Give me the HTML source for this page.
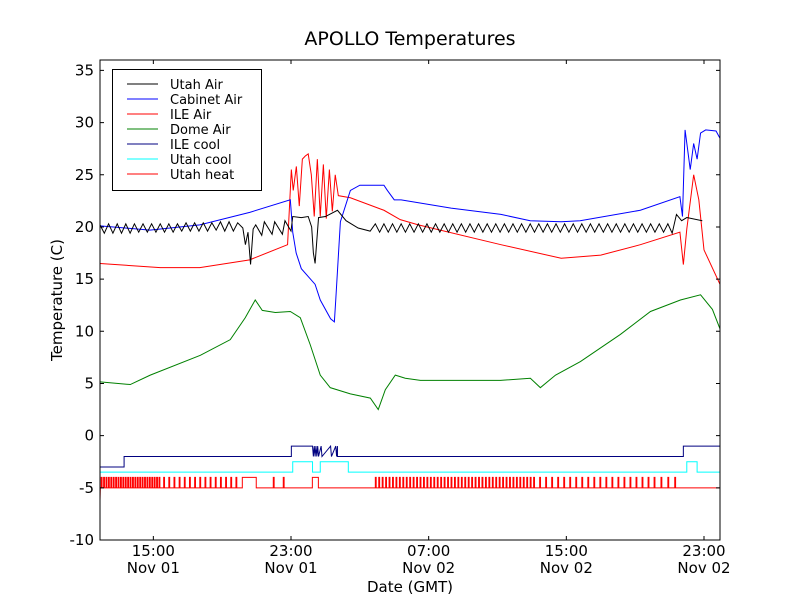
<!DOCTYPE html>
<html><head><meta charset="utf-8"><style>
body{margin:0;background:#fff;}
svg{display:block;font-family:"DejaVu Sans","Liberation Sans",sans-serif;}
</style></head><body>
<svg id="chart" width="800" height="600" viewBox="0 0 800 600" xmlns="http://www.w3.org/2000/svg">
<rect x="0" y="0" width="800" height="600" fill="#fff"/>
<defs><clipPath id="clip"><rect x="100" y="60" width="620" height="480"/></clipPath></defs>
<text x="410" y="45" font-size="19" text-anchor="middle">APOLLO Temperatures</text>
<text x="0" y="0" font-size="15" text-anchor="middle" transform="translate(62,300) rotate(-90)">Temperature (C)</text>
<text x="410" y="592" font-size="15" text-anchor="middle">Date (GMT)</text>
<g id="series" clip-path="url(#clip)"></g>
<g id="axes"></g>
<g id="legend"></g>
</svg>
<script>
// time in hours since Nov 01 00:00 GMT
const xTickTimes = [15, 23, 31, 39, 47];
const xTickTop = ["15:00", "23:00", "07:00", "15:00", "23:00"];
const xTickBottom = ["Nov 01", "Nov 01", "Nov 02", "Nov 02", "Nov 02"];
const yTicks = [-10, -5, 0, 5, 10, 15, 20, 25, 30, 35];
const seriesNames = ["Utah Air", "Cabinet Air", "ILE Air", "Dome Air", "ILE cool", "Utah cool", "Utah heat"];

const cabinetT = [11.9,14.8,17.7,20.6,22.96,23.1,23.3,23.6,24.4,24.7,25.3,25.52,25.6,25.87,26.45,27.0,28.4,28.6,29.0,29.4,32.3,35.2,36.9,38.7,39.8,43.3,45.6,45.75,45.9,46.2,46.4,46.6,46.8,47.1,47.7,47.96];
const cabinetV = [20.1,19.7,20.2,21.4,22.6,19.5,17.5,16.0,14.5,13,11.2,10.9,13.0,20.5,23.5,24.0,24.0,23.5,22.6,22.6,21.8,21.2,20.6,20.5,20.6,21.6,22.9,21.0,29.3,25.5,28,26.5,29,29.3,29.2,28.4];

const ileAirT = [11.9,15.4,17.7,20.6,22.8,23.02,23.13,23.31,23.48,23.66,23.83,24.0,24.18,24.35,24.53,24.7,24.88,25.05,25.23,25.4,25.57,25.75,26.45,28.4,29.35,30.4,35.2,38.7,41.0,43.3,45.6,45.8,46.0,46.4,46.7,47.0,47.96];
const ileAirV = [16.5,16.1,16.1,16.85,18.3,25.5,23.5,25.8,22,26.5,26.8,27,25,21,26.5,21,26,20.8,25.5,21.5,25,23,22.8,21.6,20.7,20.2,18.3,17,17.3,18.3,19.5,16.4,19.8,25,22.6,17.8,14.4];

const utahAirT = [11.9,12.15,12.4,12.65,12.9,13.15,13.4,13.65,13.9,14.15,14.4,14.65,14.9,15.15,15.4,15.65,15.9,16.15,16.4,16.65,16.9,17.15,17.4,17.65,17.9,18.15,18.4,18.65,18.9,19.15,19.4,19.65,19.9,20.2,20.35,20.5,20.65,20.8,20.95,21.3,21.45,21.9,22.05,22.5,22.65,23.0,23.1,23.6,24.0,24.2,24.3,24.4,24.6,25.0,25.7,26.2,26.9,27.6,27.9,28.15,28.4,28.65,28.9,29.15,29.4,29.65,29.9,30.15,30.4,30.65,30.9,31.15,31.4,31.65,31.9,32.15,32.4,32.65,32.9,33.15,33.4,33.65,33.9,34.15,34.4,34.65,34.9,35.15,35.4,35.65,35.9,36.15,36.4,36.65,36.9,37.15,37.4,37.65,37.9,38.15,38.4,38.65,38.9,39.15,39.4,39.65,39.9,40.15,40.4,40.65,40.9,41.15,41.4,41.65,41.9,42.15,42.4,42.65,42.9,43.15,43.4,43.65,43.9,44.15,44.4,44.65,44.9,45.15,45.4,45.7,46.0,46.9,47.96];
const utahAirV = [20.2,19.4,20.3,19.4,20.3,19.4,20.3,19.4,20.3,19.5,20.3,19.5,20.3,19.5,20.3,19.5,20.3,19.5,20.3,19.6,20.4,19.6,20.4,19.6,20.4,19.6,20.4,19.7,20.5,19.6,20.5,19.6,20.4,19.9,18.3,19.5,16.4,19.8,20.2,19.2,20.5,19.3,20.5,19.3,20.6,19.6,21.0,20.9,21.0,20.0,17.5,16.5,20.9,21.0,21.6,20.6,19.9,19.6,20.3,19.5,20.3,19.5,20.3,19.5,20.3,19.5,20.3,19.5,20.3,19.5,20.3,19.5,20.3,19.5,20.3,19.5,20.3,19.5,20.3,19.5,20.3,19.5,20.3,19.5,20.3,19.5,20.3,19.5,20.3,19.5,20.3,19.5,20.3,19.5,20.3,19.5,20.3,19.5,20.3,19.5,20.3,19.5,20.3,19.5,20.3,19.5,20.3,19.5,20.3,19.5,20.3,19.5,20.3,19.5,20.3,19.5,20.3,19.5,20.3,19.5,20.3,19.5,20.3,19.5,20.3,19.5,20.3,19.4,21.2,20.6,20.9,20.6];

const domeT = [11.91,13.66,14.82,17.73,19.47,20.34,20.92,21.33,22.09,22.96,23.54,24.12,24.7,25.28,26.45,27.61,28.07,28.48,29.06,29.64,30.52,32.84,35.17,36.91,37.49,38.37,39.82,42.14,43.89,45.63,46.8,47.49,47.96];
const domeV = [5.15,4.9,5.8,7.7,9.2,11.3,13,12,11.8,11.9,11.3,8.7,5.8,4.6,4.0,3.6,2.5,4.4,5.8,5.5,5.3,5.3,5.3,5.5,4.6,5.8,7.1,9.7,11.9,13,13.5,12.1,10.1];

const ileCoolT = [11.9,13.3,13.3,23.02,23.02,24.25,24.3,24.35,24.4,24.45,24.5,24.55,24.6,24.75,24.8,25.3,25.35,25.6,25.65,25.7,25.7,45.8,45.8,47.96];
const ileCoolV = [-3,-3,-2,-2,-1,-1,-2,-1,-2,-1,-2,-1,-2,-1,-2,-1,-2,-1,-2,-1,-2,-2,-1,-1];

const utahCoolT = [11.9,23.1,23.1,24.25,24.25,24.7,24.7,26.33,26.33,46.0,46.0,46.6,46.6,47.96];
const utahCoolV = [-3.5,-3.5,-2.5,-2.5,-3.5,-3.5,-2.5,-2.5,-3.5,-3.5,-2.5,-2.5,-3.5,-3.5];

const heatPulses = [11.97,12.11,12.25,12.39,12.53,12.67,12.81,12.95,13.09,13.23,13.37,13.51,13.65,13.79,13.93,14.07,14.21,14.35,14.49,14.63,14.77,14.91,15.05,15.19,15.33,15.6,15.9,16.2,16.5,16.8,17.1,17.4,17.7,18.0,18.3,18.6,18.9,19.2,19.5,19.8,21.97,22.55,27.9,28.1,28.3,28.5,28.7,28.9,29.1,29.3,29.5,29.7,29.9,30.1,30.3,30.5,30.7,30.9,31.1,31.3,31.5,31.7,31.9,32.1,32.3,32.5,32.7,32.9,33.1,33.3,33.5,33.7,33.9,34.1,34.3,34.5,34.7,34.9,35.1,35.3,35.5,35.7,35.9,36.1,36.3,36.5,36.7,36.9,37.1,37.45,37.8,38.15,38.5,38.85,39.2,39.55,39.9,40.25,40.6,40.95,41.3,41.65,42.0,42.35,42.7,43.05,43.4,43.75,44.1,44.5,44.9,45.3];
const heatPlateauStart = [20.17, 24.24];
const heatPlateauEnd = [20.98, 24.59];
const heatOff = -5, heatOn = -4;

const T0 = 11.9, T1 = 47.93, Y0 = -10, Y1 = 36;
const L = 100, R = 720, TOP = 60, BOT = 540;
function xs(t){ return L + (t - T0) / (T1 - T0) * (R - L); }
function ys(v){ return BOT - (v - Y0) / (Y1 - Y0) * (BOT - TOP); }
const NS = "http://www.w3.org/2000/svg";
function mk(tag, parent){ const e = document.createElementNS(NS, tag); parent.appendChild(e); return e; }
const gS = document.getElementById("series"), gA = document.getElementById("axes"), gL = document.getElementById("legend");

function line(T, V, color, name){
  const p = mk("path", gS);
  p.setAttribute("d", T.map((t,i)=>(i?"L":"M")+xs(t).toFixed(2)+","+ys(V[i]).toFixed(2)).join(""));
  p.setAttribute("fill","none"); p.setAttribute("stroke",color); p.setAttribute("stroke-width","1");
  
  
}
(function(){
  let d = "M"+xs(T0)+","+ys(-6.2)+"L"+xs(T0+0.02)+","+ys(heatOff);
  const events = [];
  heatPulses.forEach(t=>events.push([t, t+0.05]));
  heatPlateauStart.forEach((s,i)=>events.push([s, heatPlateauEnd[i]]));
  events.sort((a,b)=>a[0]-b[0]);
  events.forEach(e=>{
    d += "L"+xs(e[0]).toFixed(2)+","+ys(heatOff)+"L"+xs(e[0]).toFixed(2)+","+ys(heatOn)+"L"+xs(e[1]).toFixed(2)+","+ys(heatOn)+"L"+xs(e[1]).toFixed(2)+","+ys(heatOff);
  });
  d += "L"+xs(T1)+","+ys(heatOff);
  const p = mk("path", gS);
  p.setAttribute("d", d); p.setAttribute("fill","none"); p.setAttribute("stroke","#ff0000"); p.setAttribute("stroke-width","1");
  
  
})();
line(utahCoolT, utahCoolV, "#00ffff", "utah-cool-line");
line(ileCoolT, ileCoolV, "#000080", "ile-cool-line");
line(domeT, domeV, "#008000", "dome-air-line");
line(ileAirT, ileAirV, "#ff0000", "ile-air-line");
line(cabinetT, cabinetV, "#0000ff", "cabinet-air-line");
line(utahAirT, utahAirV, "#000000", "utah-air-line");

const fr = mk("rect", gA);
fr.setAttribute("x",L); fr.setAttribute("y",TOP); fr.setAttribute("width",R-L); fr.setAttribute("height",BOT-TOP);
fr.setAttribute("fill","none"); fr.setAttribute("stroke","#000"); fr.setAttribute("stroke-width","1");


yTicks.forEach(v=>{
  const y = ys(v);
  const t1 = mk("path", gA); t1.setAttribute("d","M"+L+","+y+"h4M"+R+","+y+"h-4"); t1.setAttribute("stroke","#000");
  
  
  const tx = mk("text", gA); tx.setAttribute("x", L-6); tx.setAttribute("y", y+5); tx.setAttribute("font-size","15"); tx.setAttribute("text-anchor","end");
  tx.textContent = String(v);
  
  
});
xTickTimes.forEach((t,i)=>{
  const x = xs(t);
  const t1 = mk("path", gA); t1.setAttribute("d","M"+x+","+BOT+"v-4M"+x+","+TOP+"v4"); t1.setAttribute("stroke","#000");
  
  
  const a = mk("text", gA); a.setAttribute("x", x); a.setAttribute("y", 556); a.setAttribute("font-size","15"); a.setAttribute("text-anchor","middle");
  a.textContent = xTickTop[i];
  
  
  const b = mk("text", gA); b.setAttribute("x", x); b.setAttribute("y", 573); b.setAttribute("font-size","15"); b.setAttribute("text-anchor","middle");
  b.textContent = xTickBottom[i];
  
  
});
const legColors = ["#000000","#0000ff","#ff0000","#008000","#000080","#00ffff","#ff0000"];
const lb = mk("rect", gL);
lb.setAttribute("x",112.5); lb.setAttribute("y",69.5); lb.setAttribute("width",149); lb.setAttribute("height",121);
lb.setAttribute("fill","#fff"); lb.setAttribute("stroke","#000");


seriesNames.forEach((n,i)=>{
  const y = 84 + i*15;
  const l = mk("path", gL); l.setAttribute("d","M127,"+y+"H158"); l.setAttribute("stroke", legColors[i]);
  
  
  const t = mk("text", gL); t.setAttribute("x",170); t.setAttribute("y",y+5); t.setAttribute("font-size","13");
  t.textContent = n;
  
  
});
</script>
</body></html>
